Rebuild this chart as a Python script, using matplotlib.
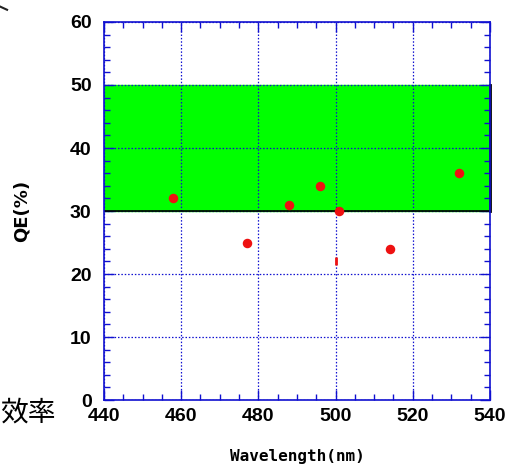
import matplotlib
matplotlib.use('Agg')
import matplotlib.pyplot as plt
from matplotlib.lines import Line2D
from matplotlib import font_manager

# data
wavelength = [458, 477, 488, 496, 501, 514, 532]
qe = [32, 25, 31, 34, 30, 24, 36]
hidden_wl = [500]
hidden_qe = [22]
band_low, band_high = 30, 50

x_ticks = [440, 460, 480, 500, 520, 540]
y_ticks = [0, 10, 20, 30, 40, 50, 60]

names = {f.name for f in font_manager.fontManager.ttflist}
tick_font = 'Liberation Sans Narrow' if 'Liberation Sans Narrow' in names else 'Liberation Sans'

blue = '#1010d0'

fig = plt.figure(figsize=(5.05, 4.66), dpi=100)
ax = fig.add_axes([0.206, 0.1416, 0.764, 0.8112])

ax.axhspan(band_low, band_high, color='#00ff00', zorder=1)
ax.axhline(band_low, color='black', lw=1.2, zorder=3)
ax.plot([540, 540], [band_low, band_high], color='black', lw=2, zorder=4, clip_on=False)

ax.scatter(wavelength, qe, s=34, color='#ee1111', zorder=5, clip_on=False)
ax.scatter(hidden_wl, hidden_qe, marker='|', s=30, linewidths=2, color='#ee1111', zorder=5)

ax.set_xlim(440, 540)
ax.set_ylim(0, 60)
ax.set_xticks(x_ticks)
ax.set_yticks(y_ticks)
ax.set_xticks(range(440, 541, 5), minor=True)
ax.set_yticks(range(0, 61, 2), minor=True)
ax.grid(True, which='major', color=blue, linestyle=(0, (1.2, 1.5)), lw=0.9, zorder=2)
ax.set_axisbelow(False)

for s in ax.spines.values():
    s.set_color(blue)
    s.set_linewidth(1.2)
    s.set_zorder(6)
ax.tick_params(which='both', direction='in', top=True, right=True, color=blue)
ax.tick_params(which='major', length=7, width=1)
ax.tick_params(which='minor', length=4, width=1)
ax.tick_params(axis='x', pad=6)
ax.tick_params(axis='y', pad=9)

for lab in ax.get_xticklabels() + ax.get_yticklabels():
    lab.set_fontfamily(tick_font)
    lab.set_fontweight('bold')
    lab.set_fontsize(14)

ax.set_xlabel('Wavelength(nm)', fontfamily='DejaVu Sans Mono', fontweight='bold',
              fontsize=11.5, labelpad=17)
ax.set_ylabel('QE(%)', fontfamily='DejaVu Sans', fontweight='bold', fontsize=13,
              labelpad=28)

fig.text(0.0, 0.115, '效率', fontfamily=['Noto Sans CJK JP', 'DejaVu Sans'],
         fontsize=20, ha='left', va='center')
fig.add_artist(Line2D([0.0, 0.014], [0.986, 0.979], color='#222222', lw=1.5))

fig.savefig('out.png', dpi=100)
